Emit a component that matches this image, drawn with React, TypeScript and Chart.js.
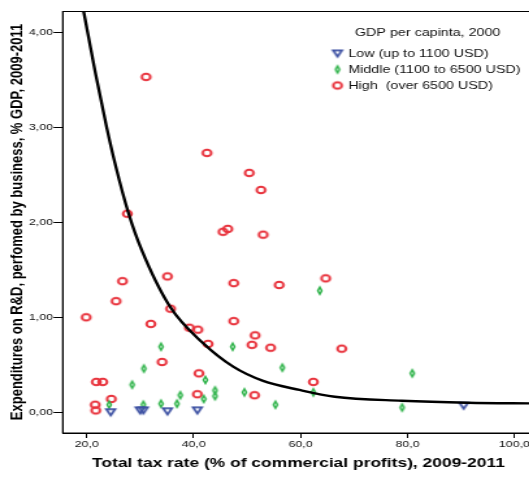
import { useEffect, useRef } from "react";
import { Chart, registerables } from "chart.js";

Chart.register(...registerables);

// Total tax rate (%) and business R&D (% GDP) by income group
const lowX = [24.5, 30.0, 30.6, 35.1, 40.7, 90.5];
const lowY = [0.0, 0.02, 0.02, 0.01, 0.02, 0.07];

const midX = [33.9, 30.7, 28.5, 24.2, 30.6, 33.9, 36.9, 37.5, 47.3, 56.6, 42.2, 44.0, 44.0, 41.9, 49.5, 55.3, 63.6, 80.9, 62.4, 79.0];
const midY = [0.69, 0.46, 0.29, 0.08, 0.08, 0.09, 0.09, 0.18, 0.69, 0.47, 0.34, 0.23, 0.17, 0.14, 0.21, 0.08, 1.28, 0.41, 0.21, 0.05];

const highX = [31.1, 42.5, 50.4, 52.6, 45.5, 46.4, 53.0, 27.6, 26.7, 35.1, 25.5, 35.7, 19.9, 32.0, 34.1, 21.8, 23.0, 24.6, 21.6, 21.7, 47.5, 56.0, 47.5, 39.2, 40.8, 51.5, 50.9, 42.7, 54.4, 41.0, 40.7, 51.4, 64.7, 67.7, 62.4];
const highY = [3.53, 2.73, 2.52, 2.34, 1.9, 1.93, 1.87, 2.09, 1.38, 1.43, 1.17, 1.09, 1.0, 0.93, 0.53, 0.32, 0.32, 0.14, 0.08, 0.02, 1.36, 1.34, 0.96, 0.89, 0.87, 0.81, 0.71, 0.72, 0.68, 0.41, 0.19, 0.18, 1.41, 0.67, 0.32];

// Fitted curve
const fitX = [19.4, 21.6, 23.7, 25.3, 27.8, 30.2, 35.6, 41.8, 47.4, 53.0, 59.8, 66.4, 78.9, 91.3, 103.7];
const fitY = [4.23, 3.58, 3.01, 2.62, 2.1, 1.72, 1.11, 0.726, 0.48, 0.33, 0.235, 0.164, 0.122, 0.101, 0.094];

const xTicks = [20, 40, 60, 80, 100];
const yTicks = [0, 1, 2, 3, 4];

const groupLabels = ["Low (up to 1100 USD)", "Middle (1100 to 6500 USD)", "High  (over 6500 USD)"];
const legendTitle = "GDP per capinta, 2000";
const xTitle = "Total tax rate (% of commercial profits), 2009-2011";
const yTitle = "Expenditures on R&D, perfomed by business, % GDP, 2009-2011";

const FAMILY = "Arial, 'Liberation Sans', sans-serif";
const RED = "#e8323c";
const GREEN = "#2fb34a";
const BLUE = "#3c50a2";

function pts(xs: number[], ys: number[]) {
  return xs.map((x, i) => ({ x, y: ys[i] }));
}

function ring(color: string) {
  const c = document.createElement("canvas");
  c.width = 12;
  c.height = 12;
  const g = c.getContext("2d")!;
  g.strokeStyle = color;
  g.lineWidth = 2;
  g.beginPath();
  g.arc(6, 6, 3.3, 0, Math.PI * 2);
  g.stroke();
  return c;
}

function diamond(color: string) {
  const c = document.createElement("canvas");
  c.width = 8;
  c.height = 14;
  const g = c.getContext("2d")!;
  g.fillStyle = color;
  g.beginPath();
  g.moveTo(4, 1.65);
  g.lineTo(6.4, 7);
  g.lineTo(4, 12.35);
  g.lineTo(1.6, 7);
  g.closePath();
  g.fill();
  g.fillStyle = "#fff";
  g.beginPath();
  g.moveTo(4, 5.4);
  g.lineTo(4.7, 7);
  g.lineTo(4, 8.6);
  g.lineTo(3.3, 7);
  g.closePath();
  g.fill();
  return c;
}

function downTriangle(color: string) {
  const c = document.createElement("canvas");
  c.width = 12;
  c.height = 12;
  const g = c.getContext("2d")!;
  g.strokeStyle = color;
  g.lineWidth = 1.8;
  g.lineJoin = "miter";
  g.beginPath();
  g.moveTo(2.6, 2.8);
  g.lineTo(9.4, 2.8);
  g.lineTo(6, 9.1);
  g.closePath();
  g.stroke();
  return c;
}

const framePlugin = {
  id: "frame",
  beforeDatasetsDraw(chart: any) {
    const { ctx, chartArea } = chart;
    ctx.save();
    ctx.strokeStyle = "#000";
    ctx.lineWidth = 1;
    ctx.strokeRect(chartArea.left, Math.round(chartArea.top) + 0.5, chartArea.right - chartArea.left, chartArea.bottom - Math.round(chartArea.top) - 0.5);
    ctx.restore();
  },
};

const legendPlugin = {
  id: "groupLegend",
  afterDraw(chart: any) {
    const ctx = chart.ctx;
    ctx.save();
    ctx.fillStyle = "#111";
    ctx.font = `11px ${FAMILY}`;
    ctx.textBaseline = "middle";
    ctx.textAlign = "center";
    ctx.fillText(legendTitle, 329, 33);
    ctx.textAlign = "left";
    chart.data.datasets.slice(1).forEach((ds: any, i: number) => {
      const y = 53.5 + i * 16;
      const img = ds.pointStyle as HTMLCanvasElement;
      ctx.drawImage(img, 259.6 - img.width / 2, y - img.height / 2);
      ctx.fillText(ds.label, 267.9, y + 0.5);
    });
    ctx.restore();
  },
};

export default function App() {
  const ref = useRef<HTMLCanvasElement>(null);

  useEffect(() => {
    const canvas = ref.current;
    if (!canvas) return;
    const chart = new Chart(canvas, {
      type: "scatter",
      data: {
        datasets: [
          {
            type: "line",
            label: "fit",
            data: pts(fitX, fitY),
            borderColor: "#000",
            borderWidth: 2.4,
            pointRadius: 0,
            cubicInterpolationMode: "monotone",
            fill: false,
          } as any,
          { label: groupLabels[0], data: pts(lowX, lowY), pointStyle: downTriangle(BLUE) as any },
          { label: groupLabels[1], data: pts(midX, midY), pointStyle: diamond(GREEN) as any },
          { label: groupLabels[2], data: pts(highX, highY), pointStyle: ring(RED) as any },
        ],
      },
      options: {
        animation: false,
        responsive: false,
        devicePixelRatio: 1,
        events: [],
        layout: { padding: { top: 11, right: 4.5, bottom: 0, left: 0 } },
        plugins: { legend: { display: false }, tooltip: { enabled: false } },
        scales: {
          x: {
            type: "linear",
            min: 15.51,
            max: 103.72,
            afterFit: (s: any) => {
              s.height = 46;
            },
            afterBuildTicks: (s: any) => {
              s.ticks = xTicks.map((v) => ({ value: v }));
            },
            grid: { drawOnChartArea: false, drawTicks: true, tickLength: 5, color: "#000" },
            border: { display: true, color: "#000", width: 1 },
            ticks: {
              padding: 1,
              color: "#111",
              font: { family: FAMILY, size: 9.5 },
              maxRotation: 0,
              autoSkip: false,
              callback: (v: any) => Number(v).toFixed(1).replace(".", ","),
            },
            title: {
              display: true,
              text: xTitle,
              color: "#000",
              font: { family: FAMILY, size: 13.4, weight: "bold" },
              padding: { top: 0, bottom: 8 },
            },
          },
          y: {
            type: "linear",
            min: -0.218,
            max: 4.224,
            afterFit: (s: any) => {
              s.width = 48.2;
            },
            afterBuildTicks: (s: any) => {
              s.ticks = yTicks.map((v) => ({ value: v }));
            },
            grid: { drawOnChartArea: false, drawTicks: true, tickLength: 7, color: "#000" },
            border: { display: true, color: "#000", width: 1 },
            ticks: {
              padding: 0.5,
              color: "#111",
              font: { family: FAMILY, size: 9.5 },
              autoSkip: false,
              callback: (v: any) => Number(v).toFixed(2).replace(".", ","),
            },
            title: {
              display: true,
              text: yTitle,
              color: "#000",
              font: { family: FAMILY, size: 13, weight: "bold" },
              padding: { top: 6, bottom: 0 },
            },
          },
        },
      },
      plugins: [framePlugin, legendPlugin],
    });
    return () => chart.destroy();
  }, []);

  return (
    <div
      style={{
        position: "fixed",
        left: 0,
        top: 0,
        width: 529,
        height: 479,
        overflow: "hidden",
        background: "#fff",
      }}
    >
      <canvas
        ref={ref}
        width={416}
        height={479}
        style={{
          width: "416px",
          height: "479px",
          display: "block",
          transform: "scaleX(1.3)",
          transformOrigin: "0 0",
        }}
      />
    </div>
  );
}
